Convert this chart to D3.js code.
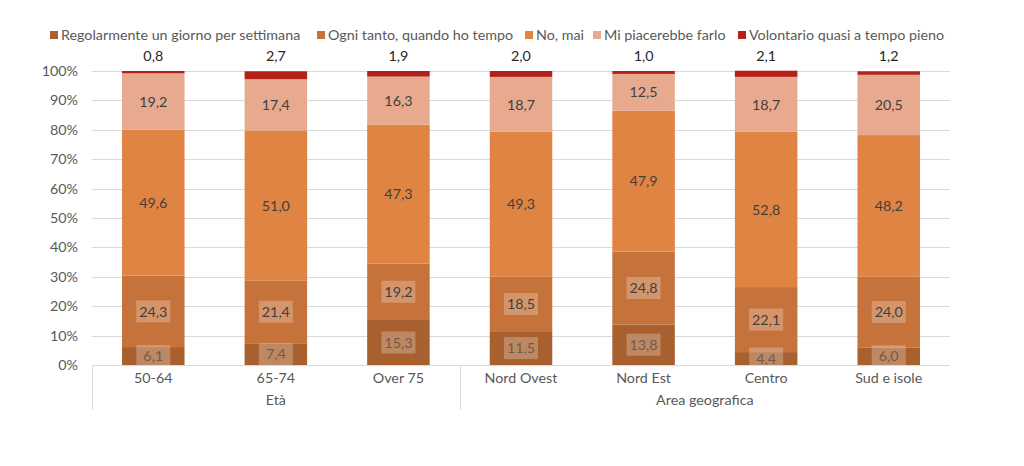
<!DOCTYPE html>
<html>
<head>
<meta charset="utf-8">
<script src="https://cdn.jsdelivr.net/npm/d3@7"></script>
<style>
  body { margin: 0; background: #fff; }
  text { font-family: Lato, "Open Sans", sans-serif; }
</style>
</head>
<body>
<script>
// categorie e gruppi
const categorie = ["50-64", "65-74", "Over 75", "Nord Ovest", "Nord Est", "Centro", "Sud e isole"];
const gruppi = ["Età", "Età", "Età", "Area geografica", "Area geografica", "Area geografica", "Area geografica"];

// serie (valori in %)
const serie = ["Regolarmente un giorno per settimana", "Ogni tanto, quando ho tempo", "No, mai", "Mi piacerebbe farlo", "Volontario quasi a tempo pieno"];
const regolarmente = [6.1, 7.4, 15.3, 11.5, 13.8, 4.4, 6.0];
const ogniTanto = [24.3, 21.4, 19.2, 18.5, 24.8, 22.1, 24.0];
const noMai = [49.6, 51.0, 47.3, 49.3, 47.9, 52.8, 48.2];
const miPiacerebbe = [19.2, 17.4, 16.3, 18.7, 12.5, 18.7, 20.5];
const volontario = [0.8, 2.7, 1.9, 2.0, 1.0, 2.1, 1.2];

const tickValori = [0, 10, 20, 30, 40, 50, 60, 70, 80, 90, 100];

const colori = ["#a8602f", "#c6723b", "#e08443", "#e7aa8f", "#b22219"];

// tabella per d3.stack
const valori = [regolarmente, ogniTanto, noMai, miPiacerebbe, volontario];
const tabella = categorie.map((c, i) => {
  let r = {cat: c};
  serie.forEach((s, j) => { r[s] = valori[j][i]; });
  return r;
});

const W = 1024, H = 466;
const mSx = 92, mDx = 950, mSu = 71, mGiu = 365;
const fs = "14.3px";

let svg = d3.select("body").append("svg")
  .attr("width", W)
  .attr("height", H);

let x = d3.scaleBand()
  .domain(categorie)
  .range([mSx, mDx])
  .paddingInner(0.49)
  .paddingOuter(0.245);

let y = d3.scaleLinear()
  .domain([0, 100])
  .range([mGiu, mSu]);

// griglia
svg.append("g")
  .selectAll("line")
  .data(tickValori.filter(d => d > 0))
  .enter()
  .append("line")
  .attr("x1", mSx).attr("x2", mDx)
  .attr("y1", d => Math.round(y(d)) + 0.5).attr("y2", d => Math.round(y(d)) + 0.5)
  .attr("stroke", "#d9d9d9")
  .attr("stroke-width", 1);

// asse y
let yAxis = svg.append("g")
  .attr("transform", "translate(" + mSx + ",0)")
  .call(d3.axisLeft(y).tickValues(tickValori).tickFormat(d => d + "%").tickSize(0).tickPadding(14));
yAxis.select(".domain").remove();
yAxis.selectAll("text")
  .attr("fill", "#595959")
  .style("font-size", fs)
  .style("font-family", "Lato, sans-serif");

// barre
const stack = d3.stack().keys(serie)(tabella);

let strati = svg.append("g")
  .selectAll("g")
  .data(stack)
  .enter()
  .append("g")
  .attr("fill", (d, i) => colori[i]);

strati.selectAll("rect")
  .data(d => d)
  .enter()
  .append("rect")
  .attr("x", d => x(d.data.cat))
  .attr("width", x.bandwidth())
  .attr("y", d => y(d[1]))
  .attr("height", d => y(d[0]) - y(d[1]));

// asse x (linea base e separatori dei gruppi)
const gap = x.step() - x.bandwidth();
svg.append("line")
  .attr("x1", mSx).attr("x2", mDx)
  .attr("y1", mGiu + 0.5).attr("y2", mGiu + 0.5)
  .attr("stroke", "#d9d9d9");

let confini = [];
gruppi.forEach((g, i) => {
  if (i === 0 || g !== gruppi[i - 1]) confini.push({nome: g, inizio: i});
});
confini.forEach((c, k) => {
  let fine = k < confini.length - 1 ? confini[k + 1].inizio - 1 : categorie.length - 1;
  c.x0 = x(categorie[c.inizio]) - gap / 2;
  c.x1 = x(categorie[fine]) + x.bandwidth() + gap / 2;
});

svg.append("g")
  .selectAll("line")
  .data(confini)
  .enter()
  .append("line")
  .attr("x1", d => Math.round(d.x0) + 0.5).attr("x2", d => Math.round(d.x0) + 0.5)
  .attr("y1", mGiu).attr("y2", 410)
  .attr("stroke", "#d9d9d9");

svg.append("g")
  .selectAll("text")
  .data(categorie)
  .enter()
  .append("text")
  .attr("x", d => x(d) + x.bandwidth() / 2)
  .attr("y", 383)
  .attr("text-anchor", "middle")
  .attr("fill", "#595959")
  .style("font-size", fs)
  .text(d => d);

svg.append("g")
  .selectAll("text")
  .data(confini)
  .enter()
  .append("text")
  .attr("x", d => (d.x0 + d.x1) / 2)
  .attr("y", 405)
  .attr("text-anchor", "middle")
  .attr("fill", "#595959")
  .style("font-size", fs)
  .text(d => d.nome);

// etichette dei valori
svg.append("clipPath").attr("id", "area")
  .append("rect")
  .attr("x", mSx).attr("y", 0)
  .attr("width", mDx - mSx).attr("height", mGiu);

let fmt = v => d3.format(".1f")(v).replace(".", ",");

let etichette = svg.append("g").attr("clip-path", "url(#area)");

stack.forEach((s, i) => {
  let g = etichette.append("g");
  let items = g.selectAll("g")
    .data(s)
    .enter()
    .append("g")
    .attr("transform", d => {
      let cx = x(d.data.cat) + x.bandwidth() / 2;
      let cy = i === 4 ? y(d[1]) - 15 : (y(d[0]) + y(d[1])) / 2;
      return "translate(" + cx + "," + cy + ")";
    });
  if (i < 2) {
    items.append("rect")
      .attr("x", -17).attr("y", -11)
      .attr("width", 34).attr("height", 22)
      .attr("fill", "#fff")
      .attr("fill-opacity", 0.25);
  }
  items.append("text")
    .attr("text-anchor", "middle")
    .attr("dy", "0.36em")
    .attr("fill", i === 0 ? "#6f5b4f" : (i === 4 ? "#262626" : "#404040"))
    .style("font-size", fs)
    .text(d => fmt(d.data[serie[i]]));
});

// legenda
const legendaX = [50, 317, 525, 593, 738];
let legenda = svg.append("g")
  .selectAll("g")
  .data(serie)
  .enter()
  .append("g")
  .attr("transform", (d, i) => "translate(" + legendaX[i] + ",35)");
legenda.append("rect")
  .attr("x", 0).attr("y", -4)
  .attr("width", 8).attr("height", 8)
  .attr("fill", (d, i) => colori[i]);
legenda.append("text")
  .attr("x", 11)
  .attr("dy", "0.36em")
  .attr("fill", "#595959")
  .style("font-size", fs)
  .text(d => d);
</script>
</body>
</html>
